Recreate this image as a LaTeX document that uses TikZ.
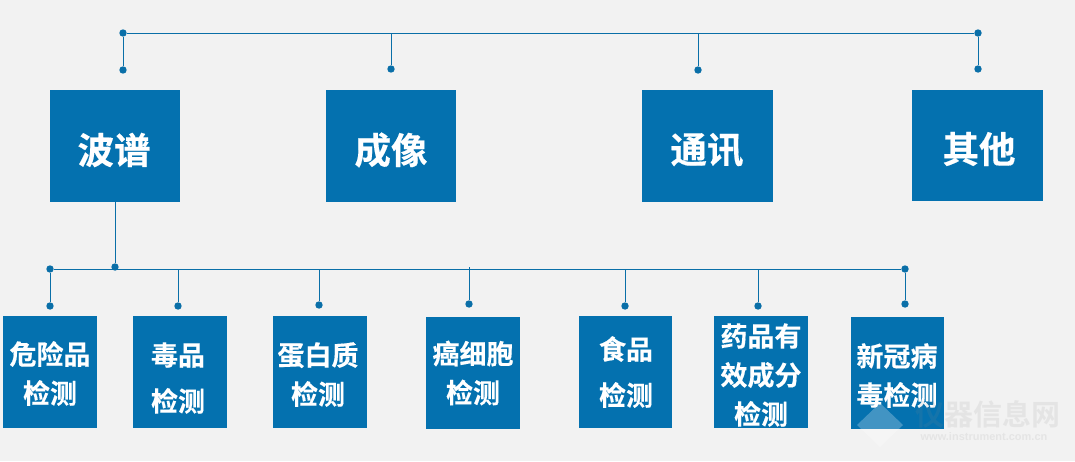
\documentclass[tikz,border=0pt]{standalone}
\usepackage{fontspec}
\setmainfont{Noto Sans CJK SC}[BoldFont={Noto Sans CJK SC Bold},BoldFeatures={FakeBold=0.35}]
\newfontfamily\wmfont{Noto Sans CJK SC Bold}
\newfontfamily\wmlatin{Liberation Sans}
\definecolor{boxblue}{HTML}{0471AF}
\definecolor{bgrey}{HTML}{F2F2F2}
\definecolor{linkblue}{HTML}{0A6FA8}
\tikzset{
  x=1pt,y=-1pt,
  bigbox/.style={fill=boxblue,draw=none,inner sep=0pt},
  bigtext/.style={text=white,font=\fontsize{36.5}{40}\selectfont\bfseries,inner sep=0pt},
  smalltext/.style={text=white,font=\fontsize{27}{39}\selectfont\bfseries,align=center,inner sep=0pt},
  dotnode/.style={circle,fill=linkblue,draw=none,minimum size=7.4pt,inner sep=0pt},
  linkline/.style={draw=linkblue,line width=0.95pt},
}
\begin{document}
\begin{tikzpicture}
\useasboundingbox[fill=bgrey] (0,0) rectangle (1075,461);
% top boxes
\node[bigbox,minimum width=130pt,minimum height=112pt] (b1) at (115,146) {};
\node[bigbox,minimum width=130pt,minimum height=112pt] (b2) at (391,146) {};
\node[bigbox,minimum width=131pt,minimum height=112pt] (b3) at (707.5,146) {};
\node[bigbox,minimum width=131pt,minimum height=111pt] (b4) at (977.5,145.5) {};
\node[bigtext] (t1) at (114,150) {波谱};
\node[bigtext] (t2) at (391,150) {成像};
\node[bigtext] (t3) at (707,150) {通讯};
\node[bigtext] (t4) at (979,149) {其他};
% bottom boxes
\node[bigbox,minimum width=94pt,minimum height=112pt] (c1) at (50,372) {};
\node[bigbox,minimum width=94pt,minimum height=112pt] (c2) at (180,372) {};
\node[bigbox,minimum width=94pt,minimum height=112pt] (c3) at (320,372) {};
\node[bigbox,minimum width=94pt,minimum height=112pt] (c4) at (473,373) {};
\node[bigbox,minimum width=93pt,minimum height=112pt] (c5) at (625.5,372) {};
\node[bigbox,minimum width=94pt,minimum height=112pt] (c6) at (761,372) {};
\node[bigbox,minimum width=93pt,minimum height=112pt] (c7) at (897.5,373) {};
\node[smalltext] (s1) at (50,373.5) {危险品\\检测};
\node[smalltext,font=\fontsize{27}{46}\selectfont\bfseries] (s2) at (178,378) {毒品\\检测};
\node[smalltext] (s3) at (318,374.5) {蛋白质\\检测};
\node[smalltext] (s4) at (473,373) {癌细胞\\检测};
\node[smalltext,font=\fontsize{27}{46}\selectfont\bfseries] (s5) at (626,372) {食品\\检测};
\node[smalltext] (s6) at (761,375) {药品有\\效成分\\检测};
\node[smalltext] (s7) at (897,375.5) {新冠病\\毒检测};
% top connector dots
\node[dotnode] (d1) at (123,33) {};
\node[dotnode] (d2) at (978,33) {};
\node[dotnode] (d3) at (123,70) {};
\node[dotnode] (d4) at (391,69) {};
\node[dotnode] (d5) at (698,70) {};
\node[dotnode] (d6) at (978,69) {};
\coordinate (j4) at (391,33);
\coordinate (j5) at (698,33);
\draw[linkline] (d1) -- (d2);
\draw[linkline] (d1) -- (d3);
\draw[linkline] (j4) -- (d4);
\draw[linkline] (j5) -- (d5);
\draw[linkline] (d2) -- (d6);
% bottom connector dots
\node[dotnode] (e1) at (50,269) {};
\node[dotnode] (e2) at (905,269) {};
\node[dotnode] (e0) at (115,267) {};
\node[dotnode] (f1) at (50,306) {};
\node[dotnode] (f2) at (178,306) {};
\node[dotnode] (f3) at (319,305) {};
\node[dotnode] (f4) at (469,304) {};
\node[dotnode] (f5) at (625,306) {};
\node[dotnode] (f6) at (758,306) {};
\node[dotnode] (f7) at (905,304) {};
\coordinate (k2) at (178,269);
\coordinate (k3) at (319,269);
\coordinate (k4) at (469,267);
\coordinate (k5) at (625,269);
\coordinate (k6) at (758,269);
\draw[linkline] (e1) -- (e2);
\draw[linkline] (b1.south) -- (e0);
\draw[linkline] (e1) -- (f1);
\draw[linkline] (k2) -- (f2);
\draw[linkline] (k3) -- (f3);
\draw[linkline] (k4) -- (f4);
\draw[linkline] (k5) -- (f5);
\draw[linkline] (k6) -- (f6);
\draw[linkline] (e2) -- (f7);
% watermark
\fill[white,opacity=0.25] (880,403) -- (903,425) -- (880,447) -- (857,425) -- cycle;
\node[text=black!45,opacity=0.13,font=\wmfont\fontsize{29}{32}\selectfont,inner sep=0pt] (w1) at (988,414) {仪器信息网};
\node[text=black!45,opacity=0.13,font=\wmlatin\bfseries\fontsize{11}{12}\selectfont,inner sep=0pt] (w2) at (984,437) {www.instrument.com.cn};
\end{tikzpicture}
\end{document}
